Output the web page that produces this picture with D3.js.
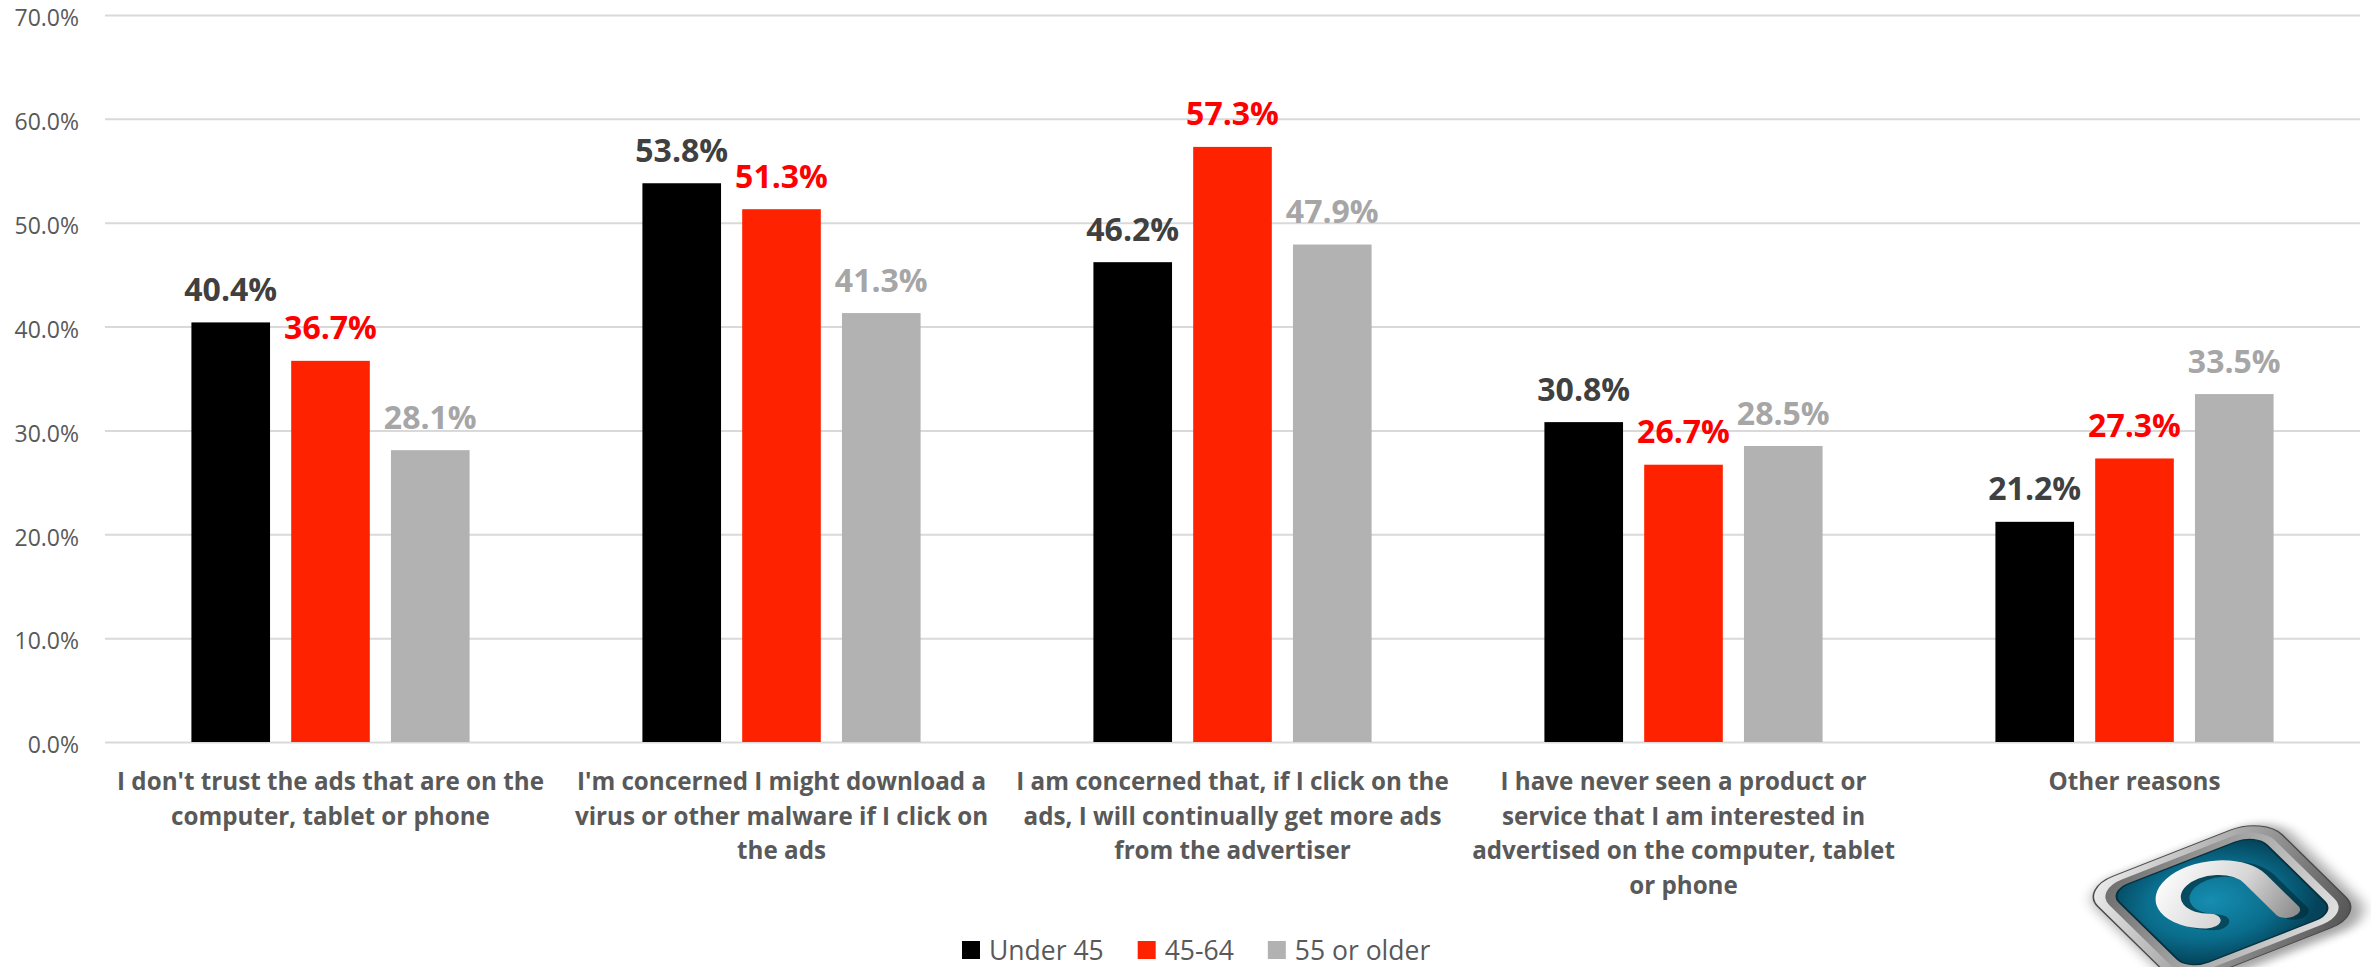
<!DOCTYPE html>
<html>
<head>
<meta charset="utf-8">
<script src="https://cdn.jsdelivr.net/npm/d3@7"></script>
<style>
  html, body { margin: 0; padding: 0; background: #ffffff; overflow: hidden; }
  svg { display: block; }
</style>
</head>
<body>
<svg id="chart" width="2371" height="967"></svg>
<script>
// ---- data ----
const categories = [
  "I don't trust the ads that are on the computer, tablet or phone",
  "I'm concerned I might download a virus or other malware if I click on the ads",
  "I am concerned that, if I click on the ads, I will continually get more ads from the advertiser",
  "I have never seen a product or service that I am interested in advertised on the computer, tablet or phone",
  "Other reasons"
];
const categoryLines = [
  ["I don't trust the ads that are on the", "computer, tablet or phone"],
  ["I'm concerned I might download a", "virus or other malware if I click on", "the ads"],
  ["I am concerned that, if I click on the", "ads, I will continually get more ads", "from the advertiser"],
  ["I have never seen a product or", "service that I am interested in", "advertised on the computer, tablet", "or phone"],
  ["Other reasons"]
];
const seriesNames = ["Under 45", "45-64", "55 or older"];
const under45   = [40.4, 53.8, 46.2, 30.8, 21.2];
const age45to64 = [36.7, 51.3, 57.3, 26.7, 27.3];
const age55plus = [28.1, 41.3, 47.9, 28.5, 33.5];
const yTicks = [0, 10, 20, 30, 40, 50, 60, 70];

// ---- styling ----
const barColors   = ["#000000", "#ff2200", "#b2b2b2"];
const labelColors = ["#404040", "#ff0000", "#a6a6a6"];
const seriesValues = [under45, age45to64, age55plus];

const svg = d3.select("#chart");
const plot = { left: 105, right: 2360, top: 15, bottom: 742 };

const x0 = d3.scaleBand()
  .domain(categories)
  .range([plot.left, plot.right])
  .paddingInner(0).paddingOuter(0);

const x1 = d3.scaleBand()
  .domain(seriesNames)
  .range([0, x0.bandwidth()])
  .paddingInner(0.212)
  .paddingOuter(0.866);

const y = d3.scaleLinear().domain([0, 70]).range([plot.bottom, plot.top]);

// ---- value axis with gridlines ----
const yAxis = svg.append("g")
  .attr("transform", `translate(${plot.left},0)`)
  .call(d3.axisLeft(y)
    .tickValues(yTicks)
    .tickSize(-(plot.right - plot.left))
    .tickPadding(26)
    .tickFormat(d => d.toFixed(1) + "%"));
yAxis.select(".domain").remove();
yAxis.selectAll(".tick line").attr("stroke", "#d9d9d9").attr("stroke-width", 2);
yAxis.selectAll(".tick text")
  .attr("fill", "#595959")
  .attr("dy", "0.47em")
  .style("font-family", "'Open Sans', sans-serif")
  .style("font-size", "23px");

// ---- bars ----
const groups = svg.append("g").selectAll("g")
  .data(categories)
  .join("g")
  .attr("transform", d => `translate(${x0(d)},0)`);

groups.selectAll("rect")
  .data((d, i) => seriesNames.map((s, j) => ({ s, j, v: seriesValues[j][i] })))
  .join("rect")
  .attr("x", d => x1(d.s))
  .attr("y", d => y(d.v))
  .attr("width", x1.bandwidth())
  .attr("height", d => y(0) - y(d.v))
  .attr("fill", d => barColors[d.j]);

groups.selectAll("text.value")
  .data((d, i) => seriesNames.map((s, j) => ({ s, j, v: seriesValues[j][i] })))
  .join("text")
  .attr("class", "value")
  .attr("x", d => x1(d.s) + x1.bandwidth() / 2)
  .attr("y", d => y(d.v) - 21.5)
  .attr("text-anchor", "middle")
  .attr("fill", d => labelColors[d.j])
  .style("font-family", "'Open Sans', sans-serif")
  .style("font-weight", "700")
  .style("font-size", "32px")
  .text(d => d.v.toFixed(1) + "%");

// ---- category axis ----
const xAxis = svg.append("g")
  .attr("transform", `translate(0,${plot.bottom})`)
  .call(d3.axisBottom(x0).tickSize(0).tickFormat(""));
xAxis.select(".domain").remove();
xAxis.selectAll(".tick text").each(function (d, i) {
  const t = d3.select(this)
    .attr("y", 0).attr("dy", null)
    .attr("fill", "#595959")
    .style("font-family", "'Open Sans', sans-serif")
    .style("font-weight", "700")
    .style("font-size", "24.2px");
  categoryLines[i].forEach((line, k) => {
    t.append("tspan").attr("x", 0).attr("y", 48 + k * 34.5).text(line);
  });
});

// ---- legend ----
const legend = svg.append("g").attr("transform", "translate(962,0)");
let lx = 0;
seriesNames.forEach((name, j) => {
  legend.append("rect")
    .attr("x", lx).attr("y", 941).attr("width", 18).attr("height", 18)
    .attr("fill", barColors[j]);
  const t = legend.append("text")
    .attr("x", lx + 27).attr("y", 959.5)
    .attr("fill", "#595959")
    .style("font-family", "'Open Sans', sans-serif")
    .style("font-size", "26.5px")
    .text(name);
  lx += 27 + t.node().getComputedTextLength() + 34;
});

// ---- brand badge (tilted key with glyph) ----
const defs = svg.append("defs");
const rimGrad = defs.append("linearGradient").attr("id", "rimGrad")
  .attr("x1", "0").attr("y1", "0").attr("x2", "1").attr("y2", "1");
rimGrad.append("stop").attr("offset", "0").attr("stop-color", "#f2f2f2");
rimGrad.append("stop").attr("offset", "0.45").attr("stop-color", "#a8a8a8");
rimGrad.append("stop").attr("offset", "1").attr("stop-color", "#4e4e4e");
const bevelGrad = defs.append("linearGradient").attr("id", "bevelGrad")
  .attr("x1", "0").attr("y1", "0").attr("x2", "1").attr("y2", "1");
bevelGrad.append("stop").attr("offset", "0").attr("stop-color", "#6a6a6a");
bevelGrad.append("stop").attr("offset", "1").attr("stop-color", "#e6e6e6");
const faceGrad = defs.append("radialGradient").attr("id", "faceGrad")
  .attr("cx", "0.45").attr("cy", "0.45").attr("r", "0.65");
faceGrad.append("stop").attr("offset", "0").attr("stop-color", "#168db0");
faceGrad.append("stop").attr("offset", "0.6").attr("stop-color", "#0a6d8c");
faceGrad.append("stop").attr("offset", "1").attr("stop-color", "#04435a");
const silverGrad = defs.append("linearGradient").attr("id", "silverGrad")
  .attr("gradientUnits", "userSpaceOnUse")
  .attr("x1", "-0.5").attr("y1", "-0.6").attr("x2", "0.5").attr("y2", "0.6");
silverGrad.append("stop").attr("offset", "0").attr("stop-color", "#ffffff");
silverGrad.append("stop").attr("offset", "0.55").attr("stop-color", "#d6d6d6");
silverGrad.append("stop").attr("offset", "1").attr("stop-color", "#8c8c8c");
defs.append("filter").attr("id", "softShadow")
  .attr("x", "-50%").attr("y", "-50%").attr("width", "200%").attr("height", "200%")
  .append("feGaussianBlur").attr("stdDeviation", "0.07");

const badge = svg.append("g").attr("transform", "matrix(92,-36,50,49,2222,902)");
badge.append("rect")
  .attr("x", -1.02).attr("y", -0.98).attr("width", 2.1).attr("height", 2.1).attr("rx", 0.38)
  .attr("fill", "#000").attr("opacity", 0.35).attr("filter", "url(#softShadow)");
badge.append("rect")
  .attr("x", -1).attr("y", -1).attr("width", 2).attr("height", 2).attr("rx", 0.36)
  .attr("fill", "url(#rimGrad)").attr("stroke", "#4a4a4a").attr("stroke-width", 0.015);
badge.append("rect")
  .attr("x", -0.9).attr("y", -0.9).attr("width", 1.8).attr("height", 1.8).attr("rx", 0.3)
  .attr("fill", "url(#bevelGrad)");
badge.append("rect")
  .attr("x", -0.8).attr("y", -0.8).attr("width", 1.6).attr("height", 1.6).attr("rx", 0.22)
  .attr("fill", "url(#faceGrad)").attr("stroke", "#06303d").attr("stroke-width", 0.02);
const glyph = "M -0.26 0.2 A 0.44 0.44 0 1 1 0.44 -0.15 L 0.44 0.5";
badge.append("path").attr("d", glyph)
  .attr("fill", "none").attr("stroke", "#022a36").attr("stroke-opacity", 0.6)
  .attr("stroke-width", 0.26).attr("stroke-linecap", "round")
  .attr("transform", "translate(0.05,0.06)");
badge.append("path").attr("d", glyph)
  .attr("fill", "none").attr("stroke", "url(#silverGrad)")
  .attr("stroke-width", 0.24).attr("stroke-linecap", "round");
</script>
</body>
</html>
